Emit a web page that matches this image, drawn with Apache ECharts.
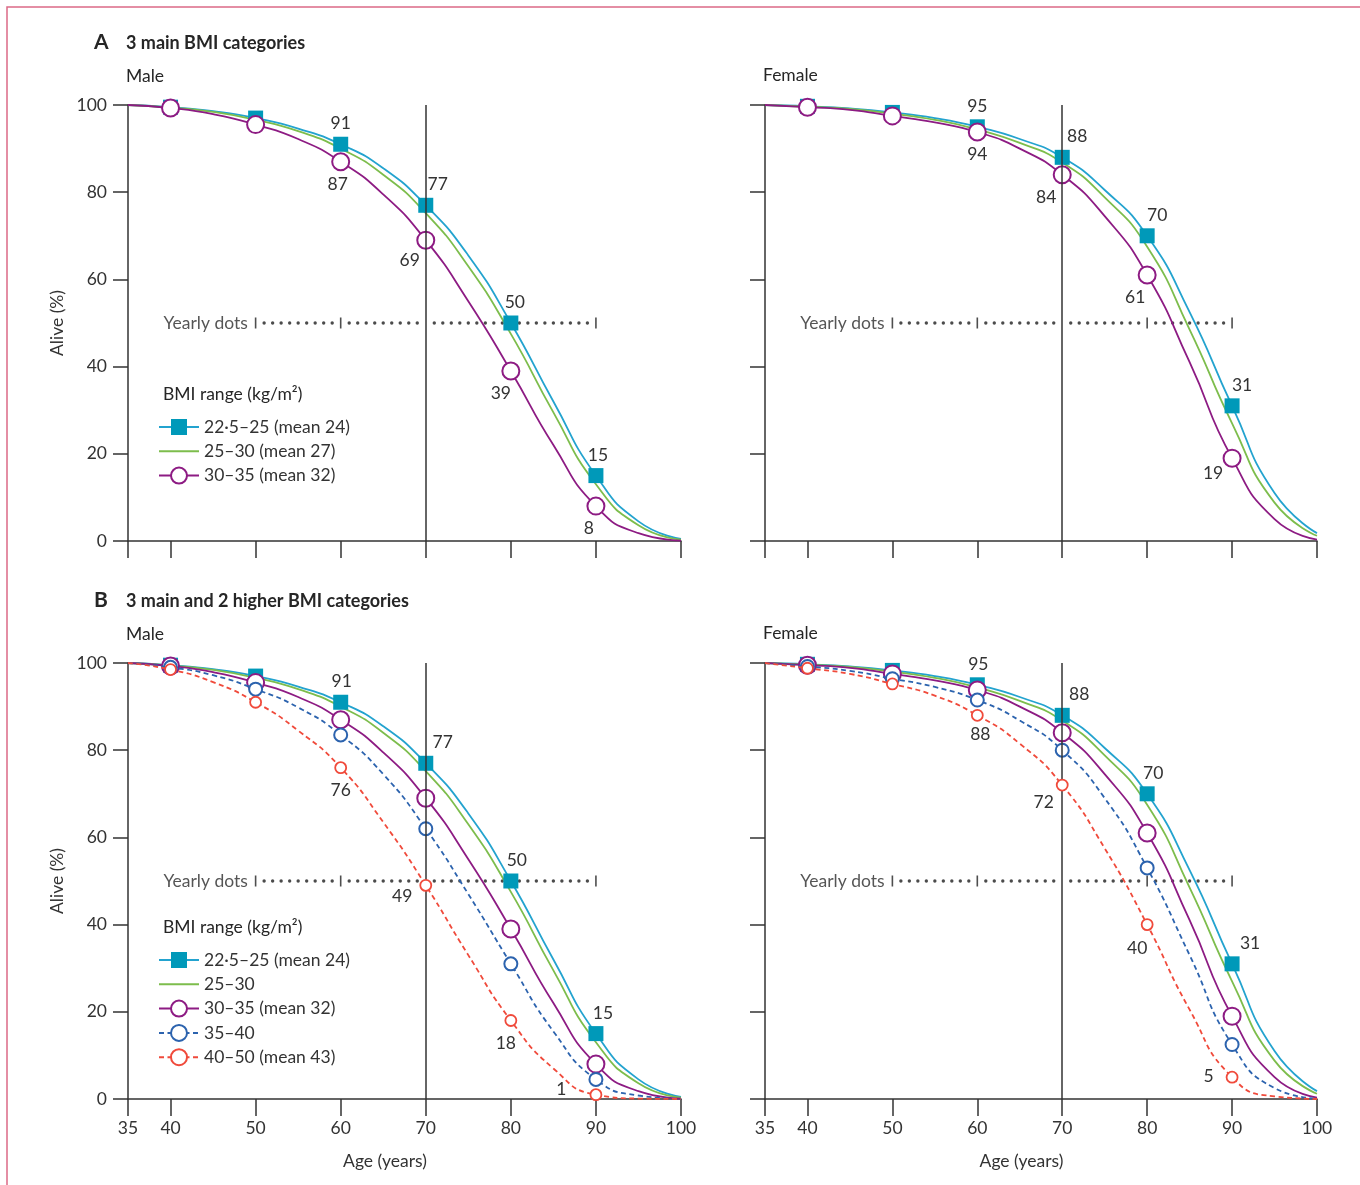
<!DOCTYPE html>
<html><head><meta charset="utf-8">
<script src="https://cdn.jsdelivr.net/npm/echarts@6/dist/echarts.min.js"></script>
<style>html,body{margin:0;padding:0;background:#fff}#c{width:1360px;height:1185px}</style>
</head><body><div id="c"></div><script>
const FONT = 'Lato, "Open Sans", sans-serif';
const TXT = '#333333';
const FS = 17.5;

// ---- data ----
const ages = [35, 40, 45, 50, 55, 60, 65, 70, 75, 80, 85, 90, 95, 100];
const markerAges = [40, 50, 60, 70, 80, 90];
const xTickValues = [35, 40, 50, 60, 70, 80, 90, 100];
const yTickValues = [0, 20, 40, 60, 80, 100];
const yearlyTickAges = [50, 60, 80, 90];
const yearlyLevel = 50;
const referenceAge = 70;

const maleBMI22_25 = [100, 99.5, 98.6, 97, 94.6, 91, 85.5, 77, 65.5, 50, 32, 15, 4.5, 0.5];
const maleBMI25_30 = [100, 99.4, 98.4, 96.6, 94, 90, 84, 75.2, 63, 47.5, 29.5, 13, 3.6, 0.3];
const maleBMI30_35 = [100, 99.3, 97.9, 95.5, 92.2, 87, 79.5, 69, 55, 39, 22, 8, 1.8, 0.1];
const maleBMI35_40 = [100, 99, 97.2, 94, 89.8, 83.5, 74.5, 62, 47, 31, 15.5, 4.5, 0.8, 0];
const maleBMI40_50 = [100, 98.5, 95.6, 91, 84.5, 76, 63.5, 49, 33, 18, 7, 1, 0.1, 0];

const femaleBMI22_25 = [100, 99.7, 99.2, 98.3, 97, 95, 92.2, 88, 80.5, 70, 52.5, 31, 11, 1.8];
const femaleBMI25_30 = [100, 99.6, 99.1, 98, 96.6, 94.4, 91.3, 86.8, 78.8, 67.5, 48.5, 27, 8.8, 1.2];
const femaleBMI30_35 = [100, 99.5, 98.9, 97.5, 96, 93.8, 90, 84, 74.5, 61, 41, 19, 5, 0.3];
const femaleBMI35_40 = [100, 99.2, 98.2, 96.4, 94.5, 91.5, 86.8, 80, 69, 53, 33, 12.5, 2.5, 0.1];
const femaleBMI40_50 = [100, 98.8, 97.5, 95.2, 92.5, 88, 81.5, 72, 57.5, 40, 20.5, 5, 0.6, 0];

const nameC22 = '22\u00b75\u201325 (mean 24)';
const nameC25A = '25\u201330 (mean 27)';
const nameC25B = '25\u201330';
const nameC30 = '30\u201335 (mean 32)';
const nameC35 = '35\u201340';
const nameC40 = '40\u201350 (mean 43)';

// ---- styles ----
const styles = {
  c22: {line: '#23a3cf', fill: '#0099b9', stroke: '#0099b9', symbol: 'rect', size: 15, bw: 0, z: 2},
  c25: {line: '#7dbd4c', symbol: 'none', z: 2},
  c30: {line: '#8d1b83', fill: '#fff', stroke: '#8d1b83', symbol: 'circle', size: 17, bw: 2, z: 3},
  c35: {line: '#2c63ae', fill: '#fff', stroke: '#2c63ae', symbol: 'circle', size: 13, bw: 2, dash: true, z: 4},
  c40: {line: '#f04a3b', fill: '#fff', stroke: '#f04a3b', symbol: 'circle', size: 11, bw: 1.8, dash: true, z: 5}
};
const lTop = (dx, d) => ({position: 'top', distance: d == null ? 4 : d, offset: [dx || 0, 0]});
const lBot = (dx, d, dy) => ({position: 'bottom', distance: d == null ? 4 : d, offset: [dx || 0, dy || 0]});
const lLeft = (dy, d) => ({position: 'left', distance: d == null ? 5 : d, offset: [0, dy || 0]});

const labelsAMale = {
  c22: {60: lTop(0), 70: lTop(12), 80: lTop(4), 90: lTop(2)},
  c30: {60: lBot(-3), 70: lBot(-16, 2), 80: lBot(-10), 90: lBot(-7)}
};
const labelsAFemale = {
  c22: {60: lTop(0), 70: lTop(15), 80: lTop(10), 90: lTop(10)},
  c30: {60: lBot(0), 70: lBot(-16), 80: lBot(-12), 90: lBot(-19, 4, -7)}
};
const labelsBMale = {
  c22: {60: lTop(1), 70: lTop(17), 80: lTop(6), 90: lTop(7)},
  c40: {60: lBot(0, 7), 70: lLeft(11, 7), 80: lBot(-5, 7), 90: lLeft(-5, 23)}
};
const labelsBFemale = {
  c22: {60: lTop(1), 70: lTop(17), 80: lTop(6), 90: lTop(18)},
  c40: {60: lBot(3, 4), 70: lLeft(17, 2), 80: lBot(-10, 8), 90: lLeft(-1, 12)}
};

function curve(name, vals, g, st, labels) {
  return {
    type: 'line', name, xAxisIndex: g, yAxisIndex: g,
    data: ages.map((a, i) => {
      const item = {value: [a, vals[i]]};
      if (!markerAges.includes(a)) item.symbol = 'none';
      const lab = labels && labels[a];
      if (lab) item.label = Object.assign({show: true}, lab);
      return item;
    }),
    smooth: 0.55,
    symbol: st.symbol, symbolSize: st.size || 0, showSymbol: st.symbol !== 'none', showAllSymbol: true,
    lineStyle: {color: st.line, width: 1.8, type: st.dash ? [5, 3.5] : 'solid'},
    itemStyle: {color: st.fill || st.line, borderColor: st.stroke || st.line, borderWidth: st.bw || 0},
    label: {show: false, color: TXT, fontSize: FS, fontFamily: FONT,
      formatter: p => String(Math.round(p.value[1]))},
    emphasis: {disabled: true}, silent: true, z: st.z, animation: false
  };
}

function yearly(g) {
  const dots = [];
  for (let yr = yearlyTickAges[0]; yr <= yearlyTickAges[yearlyTickAges.length - 1]; yr++) {
    if (yr % 10 !== 0) dots.push([yr, yearlyLevel]);
  }
  return [
    {type: 'scatter', xAxisIndex: g, yAxisIndex: g, data: dots, symbol: 'circle', symbolSize: 3.4,
      itemStyle: {color: '#1e1e1e'}, silent: true, z: 1, animation: false},
    {type: 'scatter', xAxisIndex: g, yAxisIndex: g,
      data: yearlyTickAges.map((a, i) => {
        const it = {value: [a, yearlyLevel]};
        if (i === 0) it.label = {show: true, position: 'left', distance: 7, formatter: 'Yearly dots',
          color: '#2a2a2a', fontSize: FS, fontFamily: FONT};
        return it;
      }),
      symbol: 'rect', symbolSize: [1.6, 11], itemStyle: {color: '#222'}, silent: true, z: 1, animation: false,
      markLine: {silent: true, symbol: 'none', animation: false, label: {show: false},
        lineStyle: {color: '#333', width: 1.5, type: 'solid'}, data: [{xAxis: referenceAge}]}}
  ];
}

const gridPos = [
  {left: 128, top: 105, width: 553, height: 436},
  {left: 765, top: 105, width: 552, height: 436},
  {left: 128, top: 663, width: 553, height: 436},
  {left: 765, top: 663, width: 552, height: 436}
];

const xAxes = gridPos.map((p, g) => {
  const bottomRow = g >= 2;
  return {
    type: 'value', gridIndex: g, min: 35, max: 100,
    axisLine: {show: true, onZero: false, lineStyle: {color: '#333', width: 1.5}},
    axisTick: {show: true, customValues: xTickValues, length: 17, lineStyle: {color: '#333', width: 1.5}},
    axisLabel: {show: bottomRow, customValues: xTickValues, margin: 20, fontSize: FS, color: TXT, fontFamily: FONT},
    splitLine: {show: false},
    name: bottomRow ? 'Age (years)' : '', nameLocation: 'middle', nameGap: 53,
    nameTextStyle: {fontSize: FS, color: TXT, fontFamily: FONT, padding: [0, 39, 0, 0]}
  };
});
const yAxes = gridPos.map((p, g) => {
  const male = g % 2 === 0;
  return {
    type: 'value', gridIndex: g, min: 0, max: 100, interval: 20,
    axisLine: {show: true, onZero: false, lineStyle: {color: '#333', width: 1.5}},
    axisTick: {show: true, length: 15, lineStyle: {color: '#333', width: 1.5}},
    axisLabel: {show: male, margin: 21, fontSize: FS, color: TXT, fontFamily: FONT},
    splitLine: {show: false},
    name: male ? 'Alive (%)' : '', nameLocation: 'middle', nameGap: 62,
    nameTextStyle: {fontSize: FS, color: TXT, fontFamily: FONT}
  };
});

const series = [
  curve(nameC22, maleBMI22_25, 0, styles.c22, labelsAMale.c22),
  curve(nameC25A, maleBMI25_30, 0, styles.c25),
  curve(nameC30, maleBMI30_35, 0, styles.c30, labelsAMale.c30),
  curve(nameC22, femaleBMI22_25, 1, styles.c22, labelsAFemale.c22),
  curve(nameC25A, femaleBMI25_30, 1, styles.c25),
  curve(nameC30, femaleBMI30_35, 1, styles.c30, labelsAFemale.c30),
  curve(nameC22, maleBMI22_25, 2, styles.c22, labelsBMale.c22),
  curve(nameC25B, maleBMI25_30, 2, styles.c25),
  curve(nameC30, maleBMI30_35, 2, styles.c30),
  curve(nameC35, maleBMI35_40, 2, styles.c35),
  curve(nameC40, maleBMI40_50, 2, styles.c40, labelsBMale.c40),
  curve(nameC22, femaleBMI22_25, 3, styles.c22, labelsBFemale.c22),
  curve(nameC25B, femaleBMI25_30, 3, styles.c25),
  curve(nameC30, femaleBMI30_35, 3, styles.c30),
  curve(nameC35, femaleBMI35_40, 3, styles.c35),
  curve(nameC40, femaleBMI40_50, 3, styles.c40, labelsBFemale.c40),
  ...yearly(0), ...yearly(1), ...yearly(2), ...yearly(3)
];

const legendCommon = {
  orient: 'vertical', left: 158, itemWidth: 40, itemHeight: 20, itemGap: 6.3,
  selectedMode: false, padding: 0,
  textStyle: {fontSize: FS, color: TXT, fontFamily: FONT}
};
const legendItem = n => (n === nameC25A || n === nameC25B) ? {name: n, itemStyle: {opacity: 0}} : {name: n};

const titleStyle = (size, weight) => ({fontSize: size, fontWeight: weight, color: '#262626', fontFamily: FONT});
const option = {
  backgroundColor: '#fff',
  animation: false,
  title: [
    {text: 'A', left: 94, top: 32, padding: 0, textStyle: titleStyle(21, 'bold')},
    {text: '3 main BMI categories', left: 126, top: 34, padding: 0, textStyle: titleStyle(18, 'bold')},
    {text: 'Male', left: 126, top: 67, padding: 0, textStyle: titleStyle(FS, 'normal')},
    {text: 'Female', left: 763, top: 66, padding: 0, textStyle: titleStyle(FS, 'normal')},
    {text: 'BMI range (kg/m\u00b2)', left: 163, top: 385, padding: 0, textStyle: titleStyle(FS, 'normal')},
    {text: 'B', left: 94, top: 590, padding: 0, textStyle: titleStyle(21, 'bold')},
    {text: '3 main and 2 higher BMI categories', left: 126, top: 592, padding: 0, textStyle: titleStyle(18, 'bold')},
    {text: 'Male', left: 126, top: 625, padding: 0, textStyle: titleStyle(FS, 'normal')},
    {text: 'Female', left: 763, top: 624, padding: 0, textStyle: titleStyle(FS, 'normal')},
    {text: 'BMI range (kg/m\u00b2)', left: 163, top: 918, padding: 0, textStyle: titleStyle(FS, 'normal')}
  ],
  legend: [
    Object.assign({}, legendCommon, {top: 418, data: [nameC22, nameC25A, nameC30].map(legendItem)}),
    Object.assign({}, legendCommon, {top: 951, data: [nameC22, nameC25B, nameC30, nameC35, nameC40].map(legendItem)})
  ],
  grid: gridPos.map(p => Object.assign({containLabel: false}, p)),
  xAxis: xAxes,
  yAxis: yAxes,
  series,
  graphic: [{type: 'rect', silent: true, z: -1,
    shape: {x: 7, y: 7, width: 1420, height: 1300},
    style: {fill: 'none', stroke: '#dc6a86', lineWidth: 1.5}}]
};
const chart = echarts.init(document.getElementById('c'), null, {renderer: 'canvas'});
chart.setOption(option);
</script></body></html>
